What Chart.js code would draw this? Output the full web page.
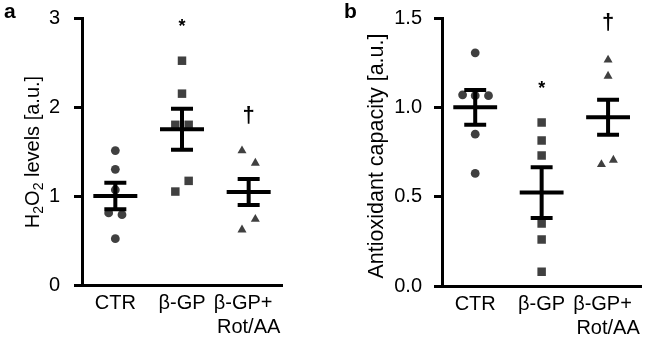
<!DOCTYPE html>
<html>
<head>
<meta charset="utf-8">
<script src="https://cdn.jsdelivr.net/npm/chart.js@4.4.0/dist/chart.umd.min.js"></script>
<style>
    body { margin: 0; background: #fff; }
    .panel { position: absolute; top: 0; width: 325px; height: 338px; }
    #panelA { left: 0; }
    #panelB { left: 325px; }
</style>
</head>
<body>
<div class="panel" id="panelA"><canvas id="h2o2Chart"></canvas></div>
<div class="panel" id="panelB"><canvas id="antioxChart"></canvas></div>
<script>
// ============================================
// Dot plots: H2O2 levels (a) and antioxidant capacity (b)
// ============================================

const categories = ['CTR', 'β-GP', ['β-GP+  ', 'Rot/AA']];

// panel a — H2O2 levels [a.u.]
const h2o2Ctr = [1.51, 1.30, 1.07, 0.81, 0.79, 0.52];
const h2o2CtrJitter = [0, 0, 0, -0.1, 0.1, 0];
const h2o2Gp = [2.52, 2.15, 1.80, 1.80, 1.17, 1.05];
const h2o2GpJitter = [0, 0, -0.1, 0.1, 0.1, -0.1];
const h2o2RotAa = [1.51, 1.37, 0.74, 0.62];
const h2o2RotAaJitter = [-0.1, 0.1, 0.1, -0.1];
const h2o2Mean = [1.0, 1.75, 1.045];
const h2o2Sem = [0.15, 0.23, 0.145];
const h2o2Ticks = [0, 1, 2, 3];

// panel b — antioxidant capacity [a.u.]
const antiCtr = [1.305, 1.07, 1.065, 1.065, 0.85, 0.63];
const antiCtrJitter = [0, -0.19, 0, 0.2, 0, 0];
const antiGp = [0.915, 0.815, 0.73, 0.35, 0.26, 0.08];
const antiGpJitter = [0, 0, 0, 0, 0, 0];
const antiRotAa = [1.265, 1.175, 0.68, 0.705];
const antiRotAaJitter = [0, 0, -0.1, 0.08];
const antiMean = [1.0, 0.523, 0.945];
const antiSem = [0.097, 0.142, 0.098];
const antiTicks = [0, 0.5, 1.0, 1.5];

const FONT = "'Liberation Sans', Arial, sans-serif";
const MARKER = '#404040';

Chart.defaults.font.family = FONT;
Chart.defaults.color = '#000';

function toPoints(values, jitter, cat) {
    return values.map((v, i) => ({ x: cat + jitter[i], y: v }));
}

// mean ± SEM bars, significance marks, axis title and panel letter
const decorPlugin = {
    id: 'decor',
    afterDatasetsDraw(chart, args, opts) {
        const { ctx, scales: { x, y } } = chart;
        ctx.save();
        ctx.strokeStyle = '#000';
        ctx.lineWidth = 4;
        opts.means.forEach((m, i) => {
            const cx = x.getPixelForValue(i);
            const hw = x.getPixelForValue(i + 0.33) - cx;
            const cw = x.getPixelForValue(i + 0.165) - cx;
            const yTop = y.getPixelForValue(m + opts.sems[i]);
            const yBot = y.getPixelForValue(m - opts.sems[i]);
            const yM = y.getPixelForValue(m);
            ctx.beginPath();
            ctx.moveTo(cx - hw, yM); ctx.lineTo(cx + hw, yM);
            ctx.moveTo(cx, yTop); ctx.lineTo(cx, yBot);
            ctx.moveTo(cx - cw, yTop); ctx.lineTo(cx + cw, yTop);
            ctx.moveTo(cx - cw, yBot); ctx.lineTo(cx + cw, yBot);
            ctx.stroke();
        });

        ctx.fillStyle = '#000';
        ctx.textAlign = 'center';
        ctx.textBaseline = 'middle';
        opts.marks.forEach(mk => {
            ctx.font = mk.font;
            ctx.fillText(mk.text, x.getPixelForValue(mk.cat), y.getPixelForValue(mk.value));
        });

        // rotated y title, runs allow subscripts
        const runs = opts.title;
        const mainFont = `${opts.titleSize}px ${FONT}`;
        const subFont = `14px ${FONT}`;
        let total = 0;
        runs.forEach(r => {
            ctx.font = r.sub ? subFont : mainFont;
            total += ctx.measureText(r.t).width;
        });
        ctx.translate(opts.titleX, opts.titleY);
        ctx.rotate(-Math.PI / 2);
        ctx.textAlign = 'left';
        ctx.textBaseline = 'alphabetic';
        let pos = -total / 2;
        runs.forEach(r => {
            ctx.font = r.sub ? subFont : mainFont;
            ctx.fillText(r.t, pos, r.sub ? 11 : 7);
            pos += ctx.measureText(r.t).width;
        });
        ctx.restore();

        ctx.save();
        ctx.fillStyle = '#000';
        ctx.font = `bold 21px ${FONT}`;
        ctx.textBaseline = 'top';
        ctx.fillText(opts.letter, opts.letterX, 2);
        ctx.restore();
    }
};

function buildPanel(canvasId, p) {
    const styles = ['circle', 'rect', 'triangle'];
    const radii = [4.4, 6, 5.2];
    return new Chart(document.getElementById(canvasId), {
        type: 'scatter',
        data: {
            datasets: p.groups.map((g, i) => ({
                data: toPoints(g.values, g.jitter, i),
                pointStyle: styles[i], pointRadius: radii[i],
                backgroundColor: MARKER, borderColor: MARKER, borderWidth: 0,
            }))
        },
        options: {
            responsive: true, maintainAspectRatio: false, animation: false, events: [],
            layout: { padding: { top: p.top, right: p.right, left: 0, bottom: 0 } },
            plugins: {
                legend: { display: false }, tooltip: { enabled: false },
                decor: {
                    means: p.means, sems: p.sems, marks: p.marks, title: p.title, titleSize: p.titleSize,
                    titleX: p.titleX, titleY: p.titleY, letter: p.letter, letterX: p.letterX,
                }
            },
            scales: {
                x: {
                    type: 'linear', min: -0.5, max: 2.5,
                    afterBuildTicks: s => { s.ticks = [0, 1, 2].map(v => ({ value: v })); },
                    afterFit: s => { s.height = 338 - p.bottom; },
                    ticks: { callback: v => categories[Math.round(v)], font: { size: 20 }, padding: 6, maxRotation: 0, autoSkip: false },
                    grid: { display: false, drawTicks: false },
                    border: { display: true, width: 3, color: '#000' },
                },
                y: {
                    min: 0, max: p.yTicks[p.yTicks.length - 1],
                    afterBuildTicks: s => { s.ticks = p.yTicks.map(v => ({ value: v })); },
                    afterFit: s => { s.width = p.left; s.paddingTop = 0; s.paddingBottom = 0; },
                    ticks: { callback: v => v.toFixed(p.decimals), font: { size: 20 }, padding: p.tickPad },
                    grid: { drawOnChartArea: false, tickLength: 8, lineWidth: 3, color: '#000' },
                    border: { display: true, width: 3, color: '#000' },
                }
            }
        },
        plugins: [decorPlugin]
    });
}

buildPanel('h2o2Chart', {
    groups: [
        { values: h2o2Ctr, jitter: h2o2CtrJitter },
        { values: h2o2Gp, jitter: h2o2GpJitter },
        { values: h2o2RotAa, jitter: h2o2RotAaJitter },
    ],
    means: h2o2Mean, sems: h2o2Sem, yTicks: h2o2Ticks, decimals: 0,
    marks: [
        { text: '*', cat: 1, value: 2.9, font: `bold 18px ${FONT}` },
        { text: '†', cat: 2, value: 1.9, font: `bold 22px ${FONT}` },
    ],
    title: [{ t: 'H' }, { t: '2', sub: true }, { t: 'O' }, { t: '2', sub: true }, { t: ' levels [a.u.]' }],
    titleSize: 20, titleX: 32, titleY: 152, letter: 'a', letterX: 4,
    left: 82, right: 43, top: 18, bottom: 285, tickPad: 14,
});

buildPanel('antioxChart', {
    groups: [
        { values: antiCtr, jitter: antiCtrJitter },
        { values: antiGp, jitter: antiGpJitter },
        { values: antiRotAa, jitter: antiRotAaJitter },
    ],
    means: antiMean, sems: antiSem, yTicks: antiTicks, decimals: 1,
    marks: [
        { text: '*', cat: 1, value: 1.1, font: `bold 18px ${FONT}` },
        { text: '†', cat: 2, value: 1.47, font: `bold 22px ${FONT}` },
    ],
    title: [{ t: 'Antioxidant capacity [a.u.]' }],
    titleSize: 21.5, titleX: 51, titleY: 156, letter: 'b', letterX: 19,
    left: 117, right: 3, top: 18, bottom: 286, tickPad: 12,
});
</script>
</body>
</html>
